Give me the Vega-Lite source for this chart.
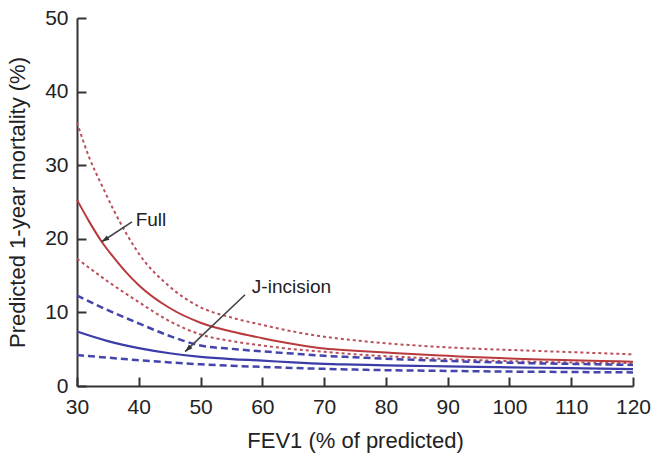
{
  "$schema": "https://vega.github.io/schema/vega-lite/v6.json",
  "width": 556,
  "height": 368,
  "autosize": "none",
  "padding": {"left": 77, "top": 18, "right": 19, "bottom": 73},
  "background": "white",
  "config": {
    "view": {"stroke": null},
    "font": "Liberation Sans",
    "axis": {
      "grid": false,
      "domainColor": "#333333",
      "domainWidth": 2,
      "tickColor": "#333333",
      "tickWidth": 2,
      "tickSize": -9,
      "labelFlush": false,
      "labelFont": "Liberation Sans",
      "labelFontSize": 21,
      "labelColor": "#222222",
      "titleFont": "Liberation Sans",
      "titleFontSize": 22,
      "titleFontWeight": "normal",
      "titleColor": "#222222"
    }
  },
  "datasets": {
    "curves": [
      {"fev": 30, "value": 35.8, "series": "Full upper"},
      {"fev": 32, "value": 31.0, "series": "Full upper"},
      {"fev": 34, "value": 27.3, "series": "Full upper"},
      {"fev": 36, "value": 23.8, "series": "Full upper"},
      {"fev": 38, "value": 20.7, "series": "Full upper"},
      {"fev": 40, "value": 18.0, "series": "Full upper"},
      {"fev": 45, "value": 13.5, "series": "Full upper"},
      {"fev": 50, "value": 10.7, "series": "Full upper"},
      {"fev": 55, "value": 9.3, "series": "Full upper"},
      {"fev": 60, "value": 8.3, "series": "Full upper"},
      {"fev": 65, "value": 7.4, "series": "Full upper"},
      {"fev": 70, "value": 6.7, "series": "Full upper"},
      {"fev": 75, "value": 6.2, "series": "Full upper"},
      {"fev": 80, "value": 5.8, "series": "Full upper"},
      {"fev": 85, "value": 5.5, "series": "Full upper"},
      {"fev": 90, "value": 5.25, "series": "Full upper"},
      {"fev": 95, "value": 5.05, "series": "Full upper"},
      {"fev": 100, "value": 4.9, "series": "Full upper"},
      {"fev": 105, "value": 4.75, "series": "Full upper"},
      {"fev": 110, "value": 4.6, "series": "Full upper"},
      {"fev": 115, "value": 4.45, "series": "Full upper"},
      {"fev": 120, "value": 4.3, "series": "Full upper"},

      {"fev": 30, "value": 25.3, "series": "Full"},
      {"fev": 32, "value": 22.3, "series": "Full"},
      {"fev": 34, "value": 19.6, "series": "Full"},
      {"fev": 36, "value": 17.4, "series": "Full"},
      {"fev": 38, "value": 15.4, "series": "Full"},
      {"fev": 40, "value": 13.7, "series": "Full"},
      {"fev": 45, "value": 10.6, "series": "Full"},
      {"fev": 50, "value": 8.6, "series": "Full"},
      {"fev": 55, "value": 7.4, "series": "Full"},
      {"fev": 60, "value": 6.5, "series": "Full"},
      {"fev": 65, "value": 5.7, "series": "Full"},
      {"fev": 70, "value": 5.1, "series": "Full"},
      {"fev": 75, "value": 4.8, "series": "Full"},
      {"fev": 80, "value": 4.55, "series": "Full"},
      {"fev": 85, "value": 4.3, "series": "Full"},
      {"fev": 90, "value": 4.1, "series": "Full"},
      {"fev": 95, "value": 3.9, "series": "Full"},
      {"fev": 100, "value": 3.75, "series": "Full"},
      {"fev": 105, "value": 3.6, "series": "Full"},
      {"fev": 110, "value": 3.5, "series": "Full"},
      {"fev": 115, "value": 3.4, "series": "Full"},
      {"fev": 120, "value": 3.3, "series": "Full"},

      {"fev": 30, "value": 17.3, "series": "Full lower"},
      {"fev": 35, "value": 14.2, "series": "Full lower"},
      {"fev": 40, "value": 11.4, "series": "Full lower"},
      {"fev": 45, "value": 8.8, "series": "Full lower"},
      {"fev": 50, "value": 7.0, "series": "Full lower"},
      {"fev": 55, "value": 6.1, "series": "Full lower"},
      {"fev": 60, "value": 5.5, "series": "Full lower"},
      {"fev": 65, "value": 5.0, "series": "Full lower"},
      {"fev": 70, "value": 4.65, "series": "Full lower"},
      {"fev": 75, "value": 4.3, "series": "Full lower"},
      {"fev": 80, "value": 4.05, "series": "Full lower"},
      {"fev": 85, "value": 3.85, "series": "Full lower"},
      {"fev": 90, "value": 3.65, "series": "Full lower"},
      {"fev": 95, "value": 3.5, "series": "Full lower"},
      {"fev": 100, "value": 3.38, "series": "Full lower"},
      {"fev": 105, "value": 3.28, "series": "Full lower"},
      {"fev": 110, "value": 3.2, "series": "Full lower"},
      {"fev": 115, "value": 3.15, "series": "Full lower"},
      {"fev": 120, "value": 3.1, "series": "Full lower"},

      {"fev": 30, "value": 12.3, "series": "J upper"},
      {"fev": 35, "value": 10.3, "series": "J upper"},
      {"fev": 40, "value": 8.5, "series": "J upper"},
      {"fev": 45, "value": 6.8, "series": "J upper"},
      {"fev": 50, "value": 5.5, "series": "J upper"},
      {"fev": 55, "value": 5.05, "series": "J upper"},
      {"fev": 60, "value": 4.7, "series": "J upper"},
      {"fev": 65, "value": 4.4, "series": "J upper"},
      {"fev": 70, "value": 4.1, "series": "J upper"},
      {"fev": 75, "value": 3.9, "series": "J upper"},
      {"fev": 80, "value": 3.7, "series": "J upper"},
      {"fev": 85, "value": 3.55, "series": "J upper"},
      {"fev": 90, "value": 3.4, "series": "J upper"},
      {"fev": 95, "value": 3.27, "series": "J upper"},
      {"fev": 100, "value": 3.17, "series": "J upper"},
      {"fev": 105, "value": 3.07, "series": "J upper"},
      {"fev": 110, "value": 3.0, "series": "J upper"},
      {"fev": 115, "value": 2.93, "series": "J upper"},
      {"fev": 120, "value": 2.86, "series": "J upper"},

      {"fev": 30, "value": 7.4, "series": "J-incision"},
      {"fev": 35, "value": 6.1, "series": "J-incision"},
      {"fev": 40, "value": 5.15, "series": "J-incision"},
      {"fev": 45, "value": 4.45, "series": "J-incision"},
      {"fev": 50, "value": 3.95, "series": "J-incision"},
      {"fev": 55, "value": 3.65, "series": "J-incision"},
      {"fev": 60, "value": 3.45, "series": "J-incision"},
      {"fev": 65, "value": 3.2, "series": "J-incision"},
      {"fev": 70, "value": 3.0, "series": "J-incision"},
      {"fev": 75, "value": 2.9, "series": "J-incision"},
      {"fev": 80, "value": 2.8, "series": "J-incision"},
      {"fev": 85, "value": 2.73, "series": "J-incision"},
      {"fev": 90, "value": 2.67, "series": "J-incision"},
      {"fev": 95, "value": 2.6, "series": "J-incision"},
      {"fev": 100, "value": 2.54, "series": "J-incision"},
      {"fev": 105, "value": 2.48, "series": "J-incision"},
      {"fev": 110, "value": 2.42, "series": "J-incision"},
      {"fev": 115, "value": 2.36, "series": "J-incision"},
      {"fev": 120, "value": 2.3, "series": "J-incision"},

      {"fev": 30, "value": 4.2, "series": "J lower"},
      {"fev": 35, "value": 3.85, "series": "J lower"},
      {"fev": 40, "value": 3.5, "series": "J lower"},
      {"fev": 45, "value": 3.2, "series": "J lower"},
      {"fev": 50, "value": 2.95, "series": "J lower"},
      {"fev": 55, "value": 2.75, "series": "J lower"},
      {"fev": 60, "value": 2.6, "series": "J lower"},
      {"fev": 65, "value": 2.45, "series": "J lower"},
      {"fev": 70, "value": 2.33, "series": "J lower"},
      {"fev": 75, "value": 2.23, "series": "J lower"},
      {"fev": 80, "value": 2.15, "series": "J lower"},
      {"fev": 85, "value": 2.1, "series": "J lower"},
      {"fev": 90, "value": 2.05, "series": "J lower"},
      {"fev": 95, "value": 2.0, "series": "J lower"},
      {"fev": 100, "value": 1.96, "series": "J lower"},
      {"fev": 105, "value": 1.93, "series": "J lower"},
      {"fev": 110, "value": 1.9, "series": "J lower"},
      {"fev": 115, "value": 1.87, "series": "J lower"},
      {"fev": 120, "value": 1.85, "series": "J lower"}
    ],
    "arrows": [
      {"name": "Full", "fev": 38.9, "value": 22.3, "fev2": 34.0, "value2": 19.6},
      {"name": "J-incision", "fev": 57.2, "value": 12.4, "fev2": 47.5, "value2": 4.67}
    ],
    "labels": [
      {"label": "Full", "fev": 39.5, "value": 22.6},
      {"label": "J-incision", "fev": 58.3, "value": 13.5}
    ]
  },
  "layer": [
    {
      "data": {"name": "curves"},
      "transform": [{"filter": "datum.series === 'Full upper'"}],
      "mark": {"type": "line", "interpolate": "monotone", "color": "#b9505a", "strokeWidth": 2, "strokeDash": [3, 3]},
      "encoding": {
        "x": {"field": "fev", "type": "quantitative", "title": "FEV1 (% of predicted)",
              "scale": {"domain": [30, 120], "nice": false, "zero": false},
              "axis": {"values": [30, 40, 50, 60, 70, 80, 90, 100, 110, 120], "labelPadding": 19,
                       "titleY": 61, "titleBaseline": "alphabetic"}},
        "y": {"field": "value", "type": "quantitative", "title": "Predicted 1-year mortality (%)",
              "scale": {"domain": [0, 50], "nice": false},
              "axis": {"values": [0, 10, 20, 30, 40, 50], "labelPadding": 18,
                       "titleX": -53, "titleY": 184, "titleAngle": -90, "titleAlign": "center", "titleBaseline": "alphabetic"}}
      }
    },
    {
      "data": {"name": "curves"},
      "transform": [{"filter": "datum.series === 'Full lower'"}],
      "mark": {"type": "line", "interpolate": "monotone", "color": "#b9505a", "strokeWidth": 2, "strokeDash": [3, 3]},
      "encoding": {
        "x": {"field": "fev", "type": "quantitative", "title": "FEV1 (% of predicted)"},
        "y": {"field": "value", "type": "quantitative", "title": "Predicted 1-year mortality (%)"}
      }
    },
    {
      "data": {"name": "curves"},
      "transform": [{"filter": "datum.series === 'Full'"}],
      "mark": {"type": "line", "interpolate": "monotone", "color": "#b83a3c", "strokeWidth": 2},
      "encoding": {
        "x": {"field": "fev", "type": "quantitative", "title": "FEV1 (% of predicted)"},
        "y": {"field": "value", "type": "quantitative", "title": "Predicted 1-year mortality (%)"}
      }
    },
    {
      "data": {"name": "curves"},
      "transform": [{"filter": "datum.series === 'J upper'"}],
      "mark": {"type": "line", "interpolate": "monotone", "color": "#4444ad", "strokeWidth": 2.5, "strokeDash": [7, 4]},
      "encoding": {
        "x": {"field": "fev", "type": "quantitative", "title": "FEV1 (% of predicted)"},
        "y": {"field": "value", "type": "quantitative", "title": "Predicted 1-year mortality (%)"}
      }
    },
    {
      "data": {"name": "curves"},
      "transform": [{"filter": "datum.series === 'J lower'"}],
      "mark": {"type": "line", "interpolate": "monotone", "color": "#4444ad", "strokeWidth": 2.5, "strokeDash": [7, 4]},
      "encoding": {
        "x": {"field": "fev", "type": "quantitative", "title": "FEV1 (% of predicted)"},
        "y": {"field": "value", "type": "quantitative", "title": "Predicted 1-year mortality (%)"}
      }
    },
    {
      "data": {"name": "curves"},
      "transform": [{"filter": "datum.series === 'J-incision'"}],
      "mark": {"type": "line", "interpolate": "monotone", "color": "#3c3ca8", "strokeWidth": 2.2},
      "encoding": {
        "x": {"field": "fev", "type": "quantitative", "title": "FEV1 (% of predicted)"},
        "y": {"field": "value", "type": "quantitative", "title": "Predicted 1-year mortality (%)"}
      }
    },
    {
      "data": {"name": "arrows"},
      "mark": {"type": "rule", "color": "#444444", "strokeWidth": 1.6},
      "encoding": {
        "x": {"field": "fev", "type": "quantitative", "title": "FEV1 (% of predicted)"},
        "y": {"field": "value", "type": "quantitative", "title": "Predicted 1-year mortality (%)"},
        "x2": {"field": "fev2"},
        "y2": {"field": "value2"}
      }
    },
    {
      "data": {"name": "arrows"},
      "transform": [{"filter": "datum.name === 'Full'"}],
      "mark": {"type": "point", "shape": "M0,0L-0.55,1.6L0.55,1.6Z", "filled": true, "color": "#333333", "opacity": 1, "size": 90, "angle": 237},
      "encoding": {
        "x": {"field": "fev2", "type": "quantitative", "title": "FEV1 (% of predicted)"},
        "y": {"field": "value2", "type": "quantitative", "title": "Predicted 1-year mortality (%)"}
      }
    },
    {
      "data": {"name": "arrows"},
      "transform": [{"filter": "datum.name === 'J-incision'"}],
      "mark": {"type": "point", "shape": "M0,0L-0.55,1.6L0.55,1.6Z", "filled": true, "color": "#333333", "opacity": 1, "size": 90, "angle": 227},
      "encoding": {
        "x": {"field": "fev2", "type": "quantitative", "title": "FEV1 (% of predicted)"},
        "y": {"field": "value2", "type": "quantitative", "title": "Predicted 1-year mortality (%)"}
      }
    },
    {
      "data": {"name": "labels"},
      "mark": {"type": "text", "align": "left", "baseline": "middle", "font": "Liberation Sans", "fontSize": 19, "color": "#222222"},
      "encoding": {
        "x": {"field": "fev", "type": "quantitative", "title": "FEV1 (% of predicted)"},
        "y": {"field": "value", "type": "quantitative", "title": "Predicted 1-year mortality (%)"},
        "text": {"field": "label"}
      }
    }
  ]
}
